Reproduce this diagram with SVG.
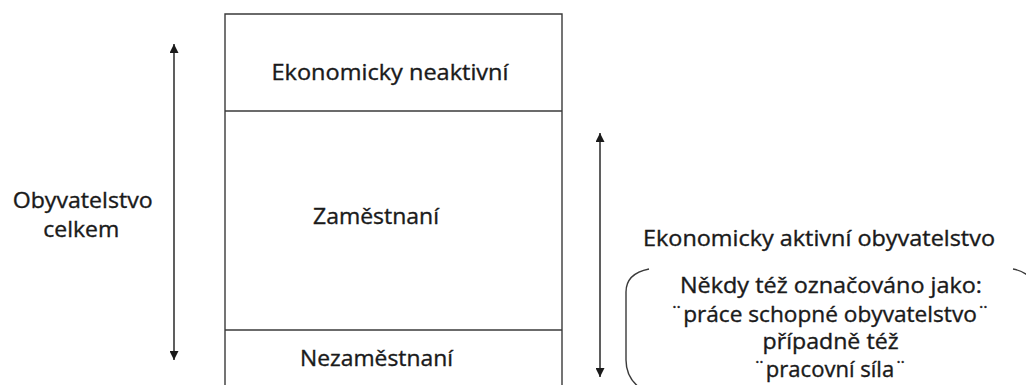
<svg xmlns="http://www.w3.org/2000/svg" width="1026" height="385" viewBox="0 0 1026 385">
<defs>
<style>
text{font-family:"Open Sans","Noto Sans","Liberation Sans",sans-serif;font-size:21px;fill:#1a1a1a;stroke:#1a1a1a;stroke-width:0.35;text-anchor:middle}
.ln{stroke:#3a3a3a;stroke-width:1.4;fill:none}
.ar{stroke:#1a1a1a;stroke-width:1.4;fill:none}
</style>
<marker id="ah" viewBox="0 0 10 10" refX="10" refY="5" markerWidth="9" markerHeight="9" markerUnits="userSpaceOnUse" orient="auto-start-reverse">
<path d="M0,0 L10,5 L0,10 Z" fill="#1a1a1a"/>
</marker>
</defs>
<rect width="1026" height="385" fill="#fff"/>
<g id="box">
<path class="ln" d="M225,390 V14 H562 V390"/>
</g>
<g id="neaktivni">
<line class="ln" x1="225" y1="111" x2="562" y2="111"/>
<text x="390" y="80" textLength="237" lengthAdjust="spacingAndGlyphs">Ekonomicky neaktivní</text>
</g>
<g id="zamestnani">
<line class="ln" x1="225" y1="330" x2="562" y2="330"/>
<text x="376" y="224" textLength="126" lengthAdjust="spacingAndGlyphs">Zaměstnaní</text>
</g>
<g id="nezamestnani">
<text x="376.5" y="366" textLength="153" lengthAdjust="spacingAndGlyphs">Nezaměstnaní</text>
</g>
<g id="obyvatelstvo">
<text x="82.7" y="208" textLength="140" lengthAdjust="spacingAndGlyphs">Obyvatelstvo</text>
<text x="81.3" y="237" textLength="76" lengthAdjust="spacingAndGlyphs">celkem</text>
</g>
<g id="aktivni">
<text x="819" y="246" textLength="352" lengthAdjust="spacingAndGlyphs">Ekonomicky aktivní obyvatelstvo</text>
</g>
<g id="poznamka">
<path class="ln" d="M649,269 C634,272 626,280 626,292 V360 C626,372 632,382 640,388"/>
<path class="ln" d="M1013,269 C1020,270 1025,273 1030,277"/>
<text x="831" y="293" textLength="302" lengthAdjust="spacingAndGlyphs">Někdy též označováno jako:</text>
<text x="830" y="321.5" textLength="320" lengthAdjust="spacingAndGlyphs">¨práce schopné obyvatelstvo¨</text>
<text x="830.5" y="349" textLength="136" lengthAdjust="spacingAndGlyphs">případně též</text>
<text x="830" y="377" textLength="154" lengthAdjust="spacingAndGlyphs">¨pracovní síla¨</text>
</g>
<g id="connectors">
<line class="ar" x1="174" y1="44" x2="174" y2="360" marker-start="url(#ah)" marker-end="url(#ah)"/>
<line class="ar" x1="600" y1="133" x2="600" y2="377" marker-start="url(#ah)" marker-end="url(#ah)"/>
</g>
</svg>
